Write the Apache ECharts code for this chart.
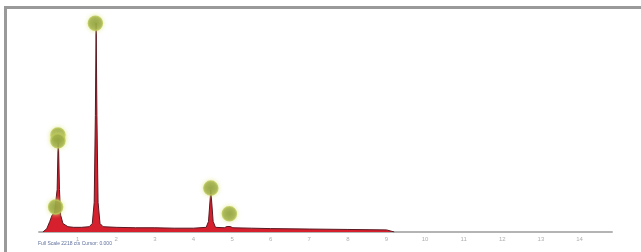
<!DOCTYPE html>
<html>
<head>
<meta charset="utf-8">
<script src="https://cdn.jsdelivr.net/npm/echarts@6/dist/echarts.min.js"></script>
<style>
  html, body { margin: 0; padding: 0; background: #fff; }
  #wrap { position: relative; width: 641px; height: 252px; overflow: hidden; }
  #frame { position: absolute; left: 4px; top: 6px; width: 700px; height: 300px;
           border-top: 3px solid #9a9a9a; border-left: 3px solid #9a9a9a; }
  #main { position: absolute; left: 0; top: 0; width: 641px; height: 252px; }
</style>
</head>
<body>
<div id="wrap">
  <div id="frame"></div>
  <div id="main"></div>
</div>
<script>
// energy (keV) and counts (% of full scale)
var energy = [0.10, 0.20, 0.28, 0.34, 0.40, 0.44, 0.47, 0.50, 0.53, 0.56, 0.62, 0.75, 0.90, 1.10, 1.30,
              1.38, 1.43, 1.46, 1.48, 1.50, 1.53, 1.58, 1.66, 2.0, 2.5, 3.0, 3.5, 4.0, 4.33, 4.39,
              4.45, 4.51, 4.57, 4.80, 4.87, 4.91, 4.95, 5.02, 5.5, 6.0, 7.0, 8.0, 9.0, 9.2];
var counts = [0, 1.5, 5, 8, 9, 9, 20, 46, 20, 8, 4, 2.5, 2.2, 2.2, 2.5,
              4, 14, 55, 98.5, 55, 14, 4, 2.5, 2.2, 2, 2, 1.8, 1.8, 2.2, 5,
              19.8, 5, 2.2, 2, 2.6, 3.3, 2.6, 2, 1.8, 1.6, 1.4, 1.2, 1.0, 0];

// peak identification markers
var markerEnergy = [0.43, 0.49, 0.49, 1.46, 4.45, 4.93];
var markerCounts = [11.8, 45.8, 43, 98.5, 20.7, 8.6];

var tickLabels = ['', '1', '2', '3', '4', '5', '6', '7', '8', '9', '10', '11', '12', '13', '14'];

var spectrum = energy.map(function (e, i) { return [e, counts[i]]; });
var markers = markerEnergy.map(function (e, i) { return [e, markerCounts[i]]; });

var myChart = echarts.init(document.getElementById('main'));

var option = {
    animation: false,
    grid: { left: 39, right: 29, top: 20, bottom: 20 },
    xAxis: {
        type: 'value',
        min: 0,
        max: 14.84,
        interval: 1,
        axisLine: { lineStyle: { color: '#b4b4b4', width: 2 } },
        axisTick: { show: false },
        splitLine: { show: false },
        axisLabel: {
            fontSize: 6,
            color: '#b0b0b0',
            margin: 4,
            showMaxLabel: false,
            formatter: function (v) { return tickLabels[Math.round(v)] || ''; }
        }
    },
    yAxis: {
        type: 'value',
        min: 0,
        max: 100,
        show: false
    },
    graphic: [{
        type: 'text',
        left: 38,
        top: 241,
        style: { text: 'Full Scale 2218 cts Cursor: 0.000', fontSize: 5, fill: '#5f6f9c' }
    }],
    series: [{
        type: 'line',
        data: spectrum,
        symbol: 'none',
        lineStyle: { color: '#5a1a22', width: 1 },
        areaStyle: { color: '#d6202e', opacity: 1 },
        z: 2
    }, {
        type: 'scatter',
        data: markers,
        symbolSize: 14,
        itemStyle: {
            color: '#8a9b36',
            borderColor: '#b9c659',
            borderWidth: 1.5,
            shadowColor: 'rgba(225,232,130,0.9)',
            shadowBlur: 4
        },
        z: 3
    }]
};

myChart.setOption(option);
</script>
</body>
</html>
